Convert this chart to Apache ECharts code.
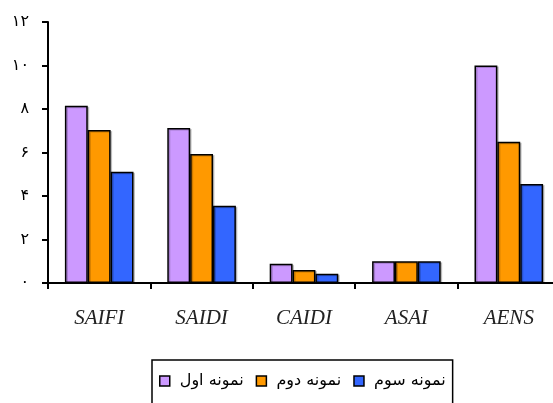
<!DOCTYPE html>
<html>
<head>
<meta charset="utf-8">
<script src="https://cdn.jsdelivr.net/npm/echarts@6/dist/echarts.min.js"></script>
<style>
  html, body { margin: 0; padding: 0; background: #fff; }
  #chart { width: 553px; height: 403px; }
</style>
</head>
<body>
<div id="chart"></div>
<script>
// Reliability indices for three samples
const categories = ['SAIFI', 'SAIDI', 'CAIDI', 'ASAI', 'AENS'];
const seriesNames = ['نمونه اول', 'نمونه دوم', 'نمونه سوم'];
const sample1 = [8.15, 7.13, 0.88, 1.0, 10.0];
const sample2 = [7.03, 5.93, 0.6, 1.0, 6.5];
const sample3 = [5.12, 3.55, 0.42, 1.0, 4.55];
const colors = ['#cc99ff', '#ff9900', '#3366ff'];
const persianDigits = ['۰', '۱', '۲', '۳', '۴', '۵', '۶', '۷', '۸', '۹'];

function toPersian(n) {
  return String(n).replace(/\d/g, d => persianDigits[+d]);
}

const chart = echarts.init(document.getElementById('chart'), null, { renderer: 'canvas' });

const seriesData = [sample1, sample2, sample3];

chart.setOption({
  animation: false,
  backgroundColor: '#ffffff',
  // plot area runs a little past the right edge of the canvas
  grid: { left: 48, top: 22, width: 512, height: 261, containLabel: false, outerBoundsMode: 'none' },
  legend: {
    top: 360,
    left: 152,
    padding: [13, 7, 20, 7],
    borderColor: '#000',
    borderWidth: 1.5,
    itemGap: 12,
    itemWidth: 10,
    itemHeight: 10,
    icon: 'rect',
    textStyle: { fontFamily: 'DejaVu Sans', fontSize: 16, color: '#000', padding: [0, 0, 0, 5] },
    data: seriesNames.map((n, i) => ({
      name: n,
      itemStyle: { color: colors[i], borderColor: '#000', borderWidth: 1.5 }
    }))
  },
  xAxis: {
    type: 'category',
    data: categories,
    axisLine: { lineStyle: { color: '#000', width: 2 } },
    axisTick: { show: true, length: 6, lineStyle: { color: '#000', width: 2 } },
    axisLabel: {
      margin: 25,
      fontFamily: 'Liberation Serif',
      fontStyle: 'italic',
      fontSize: 21,
      color: '#222'
    }
  },
  yAxis: {
    type: 'value',
    min: 0,
    max: 12,
    interval: 2,
    splitLine: { show: false },
    axisLine: { show: true, lineStyle: { color: '#000', width: 2 } },
    axisTick: { show: true, length: 6, lineStyle: { color: '#000', width: 2 } },
    axisLabel: {
      margin: 19,
      fontFamily: 'DejaVu Sans',
      fontSize: 16,
      color: '#000',
      formatter: v => toPersian(v)
    }
  },
  series: seriesData.map((d, i) => ({
    name: seriesNames[i],
    type: 'bar',
    data: d,
    barGap: '0%',
    barCategoryGap: '33%',
    itemStyle: {
      color: colors[i],
      borderColor: '#000',
      borderWidth: 1.5,
      shadowColor: 'rgba(0,0,0,0.2)',
      shadowOffsetX: 1.5,
      shadowOffsetY: 1,
      shadowBlur: 0
    }
  }))
});
</script>
</body>
</html>
